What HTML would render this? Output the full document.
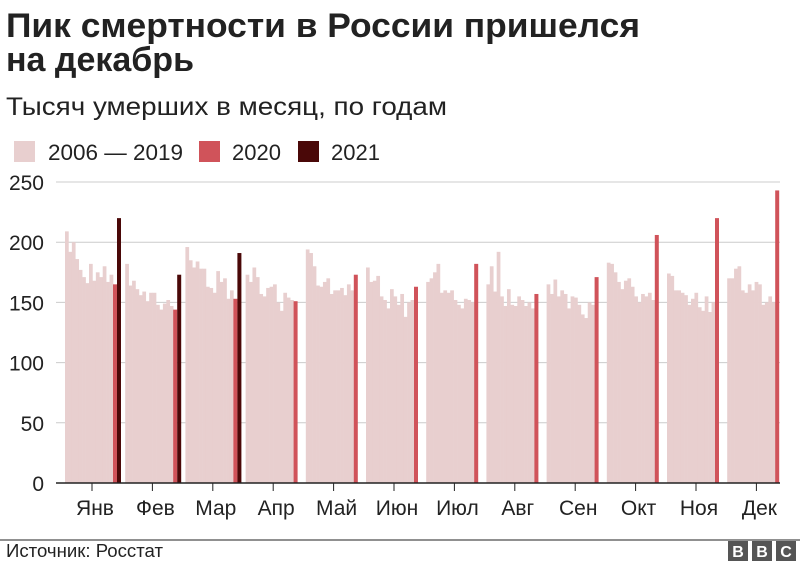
<!DOCTYPE html>
<html><head><meta charset="utf-8"><style>
body{margin:0;background:#fff;width:800px;height:562px;overflow:hidden;font-family:"Liberation Sans",Arial,sans-serif;}
</style></head><body>
<svg id="s" width="800" height="562" xmlns="http://www.w3.org/2000/svg" font-family="Liberation Sans, Arial, sans-serif">
<text x="6" y="37" font-size="34" font-weight="bold" fill="#222" textLength="634" lengthAdjust="spacingAndGlyphs">Пик смертности в России пришелся</text>
<text x="6" y="71" font-size="34" font-weight="bold" fill="#222">на декабрь</text>
<text x="6" y="115" font-size="25" fill="#222" textLength="441" lengthAdjust="spacingAndGlyphs">Тысяч умерших в месяц, по годам</text>
<rect x="14" y="141" width="21" height="21" fill="#e8cfcf"/>
<text x="48" y="160" font-size="22" fill="#222" textLength="135" lengthAdjust="spacingAndGlyphs">2006 — 2019</text>
<rect x="199" y="141" width="21" height="21" fill="#d0535a"/>
<text x="232" y="160" font-size="22" fill="#222">2020</text>
<rect x="298" y="141" width="21" height="21" fill="#4a0808"/>
<text x="331" y="160" font-size="22" fill="#222">2021</text>
<g id="grid"></g>
<g id="bars"></g>
<line x1="56" y1="483" x2="780" y2="483" stroke="#222" stroke-width="1.5"/>
<g id="xl" font-size="21" fill="#222" text-anchor="middle"></g>
<line x1="0" y1="540" x2="800" y2="540" stroke="#222" stroke-width="1"/>
<text x="6" y="557" font-size="18" fill="#222" textLength="157" lengthAdjust="spacingAndGlyphs">Источник: Росстат</text>
<rect x="728" y="541" width="20" height="20" fill="#555"/><text x="738" y="557" font-size="16" font-weight="bold" fill="#fff" text-anchor="middle">B</text>
<rect x="752" y="541" width="20" height="20" fill="#555"/><text x="762" y="557" font-size="16" font-weight="bold" fill="#fff" text-anchor="middle">B</text>
<rect x="776" y="541" width="20" height="20" fill="#555"/><text x="786" y="557" font-size="16" font-weight="bold" fill="#fff" text-anchor="middle">C</text>
</svg>
<script>
var ns="http://www.w3.org/2000/svg";
function el(p,t,a,txt){var e=document.createElementNS(ns,t);for(var k in a)e.setAttribute(k,a[k]);if(txt!=null)e.textContent=txt;p.appendChild(e);}
var g=document.getElementById('grid');
function Y(v){return 483-v*1.204;}
[50,100,150,200,250].forEach(function(v){el(g,'line',{x1:56,x2:780,y1:Y(v),y2:Y(v),stroke:'#ccc','stroke-width':1});});
[0,50,100,150,200,250].forEach(function(v){el(g,'text',{x:44,y:Y(v)+8,'font-size':21,fill:'#222','text-anchor':'end'},v);});
var L=[
[209,192,200,186,177,171,166,182,168,175,171,180,167,173],
[182,164,168,161,156,159,151,158,158,148,144,149,152,147],
[196,185,179,184,178,178,163,162,158,176,167,170,153,160],
[173,167,179,171,157,155,162,163,165,150,143,158,154,152],
[194,191,180,164,163,167,170,157,160,160,162,156,165,160],
[179,167,168,172,155,152,145,161,155,148,157,138,150,152],
[167,170,175,182,158,160,158,160,152,148,145,153,152,150],
[165,180,159,192,155,147,161,148,147,155,152,147,150,145],
[165,157,169,155,160,157,145,155,154,148,140,137,150,148],
[183,182,175,167,161,168,170,163,155,150,157,155,158,152],
[174,172,160,160,158,156,148,153,158,146,143,155,142,150],
[170,170,178,180,160,158,165,160,167,165,148,150,155,150]];
var R=[165,144,153,151,173,163,182,157,171,206,220,243];
var D=[220,173,191];
var M=['Янв','Фев','Мар','Апр','Май','Июн','Июл','Авг','Сен','Окт','Ноя','Дек'];
var b=document.getElementById('bars'),xl=document.getElementById('xl');
for(var m=0;m<12;m++){
 var x0=65+m*60.2, w=48/14;
 for(var i=0;i<14;i++){var v=L[m][i];el(b,'rect',{x:x0+i*w,y:Y(v),width:w+0.3,height:v*1.204,fill:'#e8cfcf'});}
 el(b,'rect',{x:x0+48,y:Y(R[m]),width:4,height:R[m]*1.204,fill:'#d0535a'});
 if(m<3)el(b,'rect',{x:x0+52,y:Y(D[m]),width:4,height:D[m]*1.204,fill:'#4a0808'});
 var tx=92+m*60.4;
 el(xl,'line',{x1:tx,x2:tx,y1:483,y2:491,stroke:'#222','stroke-width':1});
 el(xl,'text',{x:tx+3,y:515},M[m]);
}
</script>
</body></html>
